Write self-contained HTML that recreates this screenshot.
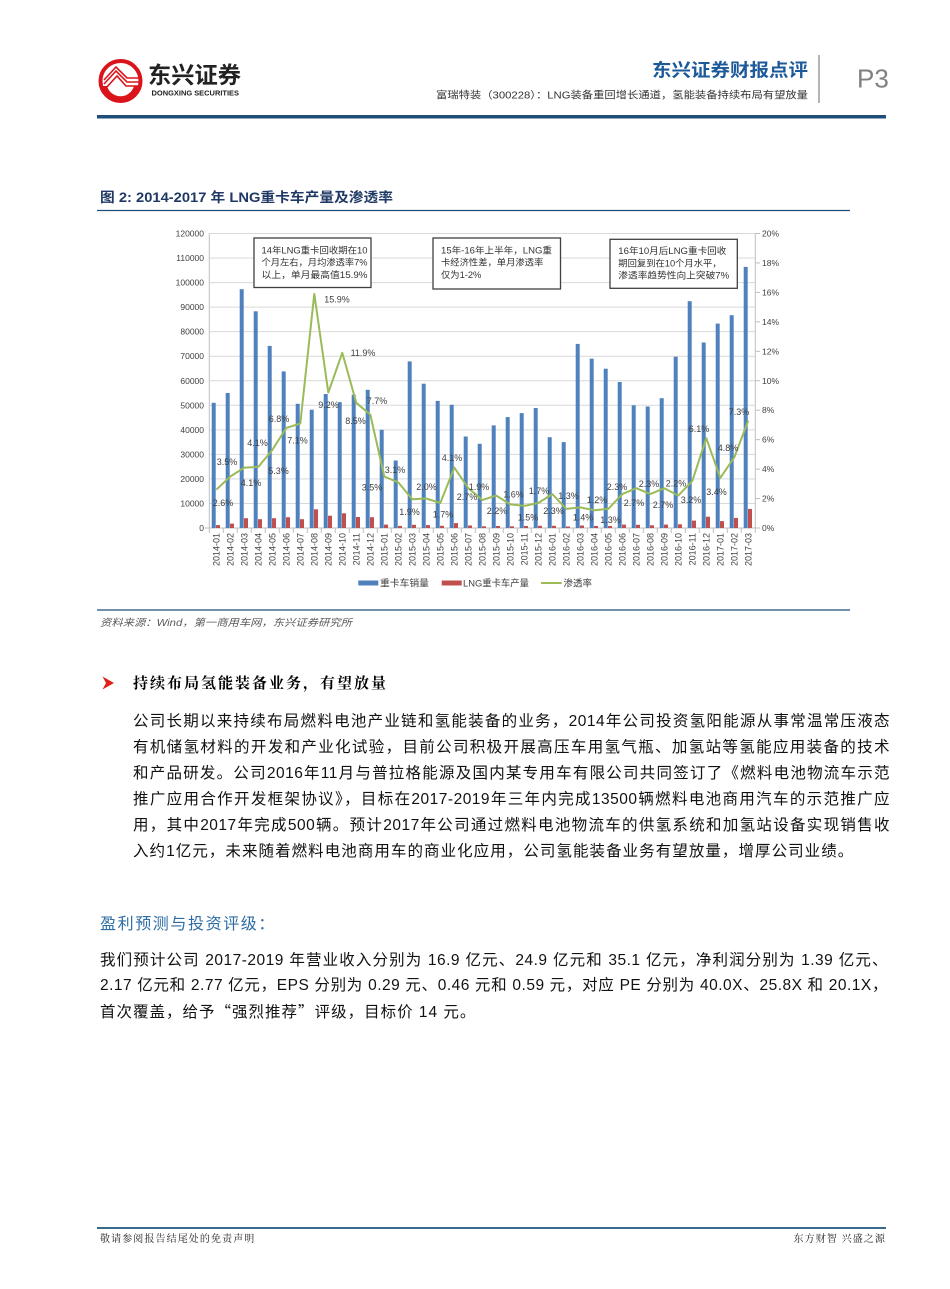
<!DOCTYPE html>
<html lang="zh-CN">
<head>
<meta charset="utf-8">
<title>富瑞特装 P3</title>
<style>
html,body{margin:0;padding:0;background:#fff;}
body{width:950px;height:1289px;position:relative;overflow:hidden;font-family:"Liberation Sans","Noto Sans CJK SC",sans-serif;}
svg{position:absolute;left:0;top:0;}
.l{position:absolute;height:26px;line-height:26px;font-size:15.5px;letter-spacing:0.5px;color:#111;text-align:justify;text-align-last:justify;font-family:"Liberation Sans","Noto Sans CJK SC",sans-serif;}
.p1{left:133px;width:757px;}
.p2{left:100px;width:788px;}
.nj{text-align:left;text-align-last:left;}
.q{font-family:"Noto Sans CJK SC",sans-serif;}
.sec{position:absolute;left:133px;top:670px;height:26px;line-height:26px;font-size:15px;font-weight:bold;letter-spacing:2px;color:#000;font-family:"Noto Serif CJK SC","Noto Sans CJK SC",serif;}
.sec2{position:absolute;left:100px;top:912px;height:26px;line-height:26px;font-size:16px;letter-spacing:1.6px;color:#2e6ca4;font-family:"Liberation Sans","Noto Sans CJK SC",sans-serif;}
.ft{position:absolute;top:1229px;height:18px;line-height:18px;font-size:10px;letter-spacing:1.1px;color:#222;font-family:"Noto Serif CJK SC","Noto Sans CJK SC",serif;}
</style>
</head>
<body>
<svg width="950" height="1289" viewBox="0 0 950 1289" xmlns="http://www.w3.org/2000/svg" font-family="Liberation Sans, Noto Sans CJK SC, sans-serif">
  <!-- Logo -->
  <circle cx="120.5" cy="81" r="20" fill="#fff" stroke="#d9141b" stroke-width="4"/>
  <path d="M101 86 A20 20 0 0 0 140 86 L134 86 A14 14 0 0 1 107 86 Z" fill="#d9141b"/>
  <g fill="none" stroke="#d9141b" stroke-width="1.6">
    <polyline points="104,84 116,71 127,82 140,82"/>
    <polyline points="104,80 116,67 127,78 139,78"/>
    <polyline points="106,88 117,76 126,86 139,86"/>
  </g>
  <text x="148" y="83" font-size="23" font-weight="bold" fill="#222" textLength="93" lengthAdjust="spacingAndGlyphs">东兴证券</text>
  <text x="151.5" y="95.5" font-size="7.5" font-weight="bold" fill="#222" textLength="87.5" lengthAdjust="spacingAndGlyphs">DONGXING SECURITIES</text>
  <!-- Header right -->
  <text x="652" y="76.5" font-size="18" font-weight="bold" fill="#1c5a99" textLength="156" lengthAdjust="spacingAndGlyphs">东兴证券财报点评</text>
  <text x="436" y="98.5" font-size="10" fill="#333" textLength="372" lengthAdjust="spacingAndGlyphs">富瑞特装（300228）：LNG装备重回增长通道，氢能装备持续布局有望放量</text>
  <line x1="819" y1="55" x2="819" y2="103" stroke="#9a9a9a" stroke-width="1.5"/>
  <text x="857" y="87.5" font-size="26" fill="#808080">P3</text>
  <rect x="97" y="115" width="789" height="3.5" fill="#1f4e79"/>

  <!-- Figure title -->
  <text x="100" y="202" font-size="13.5" font-weight="bold" fill="#1f3864" textLength="293" lengthAdjust="spacingAndGlyphs">图 2: 2014-2017 年 LNG重卡车产量及渗透率</text>
  <line x1="97" y1="210.5" x2="850" y2="210.5" stroke="#1f4e79" stroke-width="1.2"/>

  <!-- Gridlines -->
  <g stroke="#d9d9d9" stroke-width="1">
    <line x1="209.3" y1="503.46" x2="755.3" y2="503.46"/>
    <line x1="209.3" y1="478.92" x2="755.3" y2="478.92"/>
    <line x1="209.3" y1="454.38" x2="755.3" y2="454.38"/>
    <line x1="209.3" y1="429.84" x2="755.3" y2="429.84"/>
    <line x1="209.3" y1="405.3" x2="755.3" y2="405.3"/>
    <line x1="209.3" y1="380.76" x2="755.3" y2="380.76"/>
    <line x1="209.3" y1="356.22" x2="755.3" y2="356.22"/>
    <line x1="209.3" y1="331.68" x2="755.3" y2="331.68"/>
    <line x1="209.3" y1="307.14" x2="755.3" y2="307.14"/>
    <line x1="209.3" y1="282.6" x2="755.3" y2="282.6"/>
    <line x1="209.3" y1="258.06" x2="755.3" y2="258.06"/>
    <line x1="209.3" y1="233.52" x2="755.3" y2="233.52"/>
  </g>
  <!-- Axes -->
  <g stroke="#bfbfbf" stroke-width="1">
    <line x1="209.3" y1="233.5" x2="209.3" y2="528"/>
    <line x1="755.3" y1="233.5" x2="755.3" y2="528"/>
    <line x1="209.3" y1="528" x2="755.3" y2="528"/>
    <line x1="755.3" y1="528" x2="760" y2="528"/>
    <line x1="755.3" y1="498.55" x2="760" y2="498.55"/>
    <line x1="755.3" y1="469.1" x2="760" y2="469.1"/>
    <line x1="755.3" y1="439.65" x2="760" y2="439.65"/>
    <line x1="755.3" y1="410.2" x2="760" y2="410.2"/>
    <line x1="755.3" y1="380.75" x2="760" y2="380.75"/>
    <line x1="755.3" y1="351.3" x2="760" y2="351.3"/>
    <line x1="755.3" y1="321.85" x2="760" y2="321.85"/>
    <line x1="755.3" y1="292.4" x2="760" y2="292.4"/>
    <line x1="755.3" y1="262.95" x2="760" y2="262.95"/>
    <line x1="755.3" y1="233.5" x2="760" y2="233.5"/>
    <line x1="205" y1="528" x2="209.3" y2="528"/>
  </g>
  <g stroke="#bfbfbf" stroke-width="1">
    <line x1="209.3" y1="528" x2="209.3" y2="533"/><line x1="223.3" y1="528" x2="223.3" y2="533"/><line x1="237.3" y1="528" x2="237.3" y2="533"/><line x1="251.3" y1="528" x2="251.3" y2="533"/><line x1="265.3" y1="528" x2="265.3" y2="533"/><line x1="279.3" y1="528" x2="279.3" y2="533"/><line x1="293.3" y1="528" x2="293.3" y2="533"/><line x1="307.3" y1="528" x2="307.3" y2="533"/><line x1="321.3" y1="528" x2="321.3" y2="533"/><line x1="335.3" y1="528" x2="335.3" y2="533"/><line x1="349.3" y1="528" x2="349.3" y2="533"/><line x1="363.3" y1="528" x2="363.3" y2="533"/><line x1="377.3" y1="528" x2="377.3" y2="533"/><line x1="391.3" y1="528" x2="391.3" y2="533"/><line x1="405.3" y1="528" x2="405.3" y2="533"/><line x1="419.3" y1="528" x2="419.3" y2="533"/><line x1="433.3" y1="528" x2="433.3" y2="533"/><line x1="447.3" y1="528" x2="447.3" y2="533"/><line x1="461.3" y1="528" x2="461.3" y2="533"/><line x1="475.3" y1="528" x2="475.3" y2="533"/><line x1="489.3" y1="528" x2="489.3" y2="533"/><line x1="503.3" y1="528" x2="503.3" y2="533"/><line x1="517.3" y1="528" x2="517.3" y2="533"/><line x1="531.3" y1="528" x2="531.3" y2="533"/><line x1="545.3" y1="528" x2="545.3" y2="533"/><line x1="559.3" y1="528" x2="559.3" y2="533"/><line x1="573.3" y1="528" x2="573.3" y2="533"/><line x1="587.3" y1="528" x2="587.3" y2="533"/><line x1="601.3" y1="528" x2="601.3" y2="533"/><line x1="615.3" y1="528" x2="615.3" y2="533"/><line x1="629.3" y1="528" x2="629.3" y2="533"/><line x1="643.3" y1="528" x2="643.3" y2="533"/><line x1="657.3" y1="528" x2="657.3" y2="533"/><line x1="671.3" y1="528" x2="671.3" y2="533"/><line x1="685.3" y1="528" x2="685.3" y2="533"/><line x1="699.3" y1="528" x2="699.3" y2="533"/><line x1="713.3" y1="528" x2="713.3" y2="533"/><line x1="727.3" y1="528" x2="727.3" y2="533"/><line x1="741.3" y1="528" x2="741.3" y2="533"/><line x1="755.3" y1="528" x2="755.3" y2="533"/>
  </g>

  <!-- Left axis labels -->
  <g font-size="8.5" fill="#404040" text-anchor="end">
    <text x="204" y="531">0</text>
    <text x="204" y="506.5">10000</text>
    <text x="204" y="482">20000</text>
    <text x="204" y="457.4">30000</text>
    <text x="204" y="432.9">40000</text>
    <text x="204" y="408.3">50000</text>
    <text x="204" y="383.8">60000</text>
    <text x="204" y="359.2">70000</text>
    <text x="204" y="334.7">80000</text>
    <text x="204" y="310.1">90000</text>
    <text x="204" y="285.6">100000</text>
    <text x="204" y="261.1">110000</text>
    <text x="204" y="236.5">120000</text>
  </g>
  <!-- Right axis labels -->
  <g font-size="8.5" fill="#404040">
    <text x="762" y="531">0%</text>
    <text x="762" y="501.6">2%</text>
    <text x="762" y="472.1">4%</text>
    <text x="762" y="442.7">6%</text>
    <text x="762" y="413.2">8%</text>
    <text x="762" y="383.8">10%</text>
    <text x="762" y="354.3">12%</text>
    <text x="762" y="324.9">14%</text>
    <text x="762" y="295.4">16%</text>
    <text x="762" y="266">18%</text>
    <text x="762" y="236.5">20%</text>
  </g>

  <!-- Blue bars -->
  <g fill="#4f81bd">
    <rect x="211.7" y="402.8" width="4" height="125.2"/>
    <rect x="225.7" y="393.0" width="4" height="135.0"/>
    <rect x="239.7" y="289.2" width="4" height="238.8"/>
    <rect x="253.7" y="311.3" width="4" height="216.7"/>
    <rect x="267.7" y="345.9" width="4" height="182.1"/>
    <rect x="281.7" y="371.4" width="4" height="156.6"/>
    <rect x="295.7" y="403.8" width="4" height="124.2"/>
    <rect x="309.7" y="409.7" width="4" height="118.3"/>
    <rect x="323.7" y="394.0" width="4" height="134.0"/>
    <rect x="337.7" y="402.1" width="4" height="125.9"/>
    <rect x="351.7" y="394.7" width="4" height="133.3"/>
    <rect x="365.7" y="389.8" width="4" height="138.2"/>
    <rect x="379.7" y="429.8" width="4" height="98.2"/>
    <rect x="393.7" y="460.5" width="4" height="67.5"/>
    <rect x="407.7" y="361.4" width="4" height="166.6"/>
    <rect x="421.7" y="383.7" width="4" height="144.3"/>
    <rect x="435.7" y="400.9" width="4" height="127.1"/>
    <rect x="449.7" y="404.8" width="4" height="123.2"/>
    <rect x="463.7" y="436.5" width="4" height="91.5"/>
    <rect x="477.7" y="443.8" width="4" height="84.2"/>
    <rect x="491.7" y="425.4" width="4" height="102.6"/>
    <rect x="505.7" y="417.1" width="4" height="110.9"/>
    <rect x="519.7" y="413.1" width="4" height="114.9"/>
    <rect x="533.7" y="408.0" width="4" height="120.0"/>
    <rect x="547.7" y="437.2" width="4" height="90.8"/>
    <rect x="561.7" y="442.1" width="4" height="85.9"/>
    <rect x="575.7" y="343.9" width="4" height="184.1"/>
    <rect x="589.7" y="358.7" width="4" height="169.3"/>
    <rect x="603.7" y="368.7" width="4" height="159.3"/>
    <rect x="617.7" y="382.0" width="4" height="146.0"/>
    <rect x="631.7" y="405.3" width="4" height="122.7"/>
    <rect x="645.7" y="406.5" width="4" height="121.5"/>
    <rect x="659.7" y="398.2" width="4" height="129.8"/>
    <rect x="673.7" y="356.7" width="4" height="171.3"/>
    <rect x="687.7" y="301.2" width="4" height="226.8"/>
    <rect x="701.7" y="342.5" width="4" height="185.5"/>
    <rect x="715.7" y="323.6" width="4" height="204.4"/>
    <rect x="729.7" y="315.2" width="4" height="212.8"/>
    <rect x="743.7" y="266.9" width="4" height="261.1"/>
  </g>
  <!-- Red bars -->
  <g fill="#c0504d">
    <rect x="216.0" y="525.1" width="4" height="2.9"/>
    <rect x="230.0" y="523.6" width="4" height="4.4"/>
    <rect x="244.0" y="518.2" width="4" height="9.8"/>
    <rect x="258.0" y="519.2" width="4" height="8.8"/>
    <rect x="272.0" y="518.2" width="4" height="9.8"/>
    <rect x="286.0" y="517.2" width="4" height="10.8"/>
    <rect x="300.0" y="519.2" width="4" height="8.8"/>
    <rect x="314.0" y="509.3" width="4" height="18.7"/>
    <rect x="328.0" y="515.7" width="4" height="12.3"/>
    <rect x="342.0" y="513.3" width="4" height="14.7"/>
    <rect x="356.0" y="517.0" width="4" height="11.0"/>
    <rect x="370.0" y="517.2" width="4" height="10.8"/>
    <rect x="384.0" y="524.6" width="4" height="3.4"/>
    <rect x="398.0" y="525.9" width="4" height="2.1"/>
    <rect x="412.0" y="524.8" width="4" height="3.2"/>
    <rect x="426.0" y="525.1" width="4" height="2.9"/>
    <rect x="440.0" y="525.8" width="4" height="2.2"/>
    <rect x="454.0" y="523.1" width="4" height="4.9"/>
    <rect x="468.0" y="525.5" width="4" height="2.5"/>
    <rect x="482.0" y="526.3" width="4" height="1.7"/>
    <rect x="496.0" y="526.0" width="4" height="2.0"/>
    <rect x="510.0" y="526.3" width="4" height="1.7"/>
    <rect x="524.0" y="526.0" width="4" height="2.0"/>
    <rect x="538.0" y="525.8" width="4" height="2.2"/>
    <rect x="552.0" y="525.8" width="4" height="2.2"/>
    <rect x="566.0" y="526.5" width="4" height="1.5"/>
    <rect x="580.0" y="525.5" width="4" height="2.5"/>
    <rect x="594.0" y="526.0" width="4" height="2.0"/>
    <rect x="608.0" y="526.0" width="4" height="2.0"/>
    <rect x="622.0" y="524.6" width="4" height="3.4"/>
    <rect x="636.0" y="524.8" width="4" height="3.2"/>
    <rect x="650.0" y="525.3" width="4" height="2.7"/>
    <rect x="664.0" y="524.6" width="4" height="3.4"/>
    <rect x="678.0" y="524.3" width="4" height="3.7"/>
    <rect x="692.0" y="520.6" width="4" height="7.4"/>
    <rect x="706.0" y="516.7" width="4" height="11.3"/>
    <rect x="720.0" y="521.1" width="4" height="6.9"/>
    <rect x="734.0" y="517.9" width="4" height="10.1"/>
    <rect x="748.0" y="508.9" width="4" height="19.1"/>
  </g>
  <!-- Green line -->
  <polyline fill="none" stroke="#9bbb59" stroke-width="2" stroke-linejoin="round" points="216.3,489.7 230.3,476.5 244.3,467.6 258.3,466.9 272.3,450.0 286.3,427.9 300.3,423.5 314.3,293.9 328.3,392.5 342.3,352.8 356.3,402.8 370.3,414.6 384.3,476.5 398.3,482.4 412.3,499.3 426.3,498.5 440.3,503.0 454.3,467.6 468.3,488.2 482.3,500.0 496.3,495.6 510.3,504.4 524.3,505.9 538.3,503.0 552.3,494.1 566.3,508.9 580.3,507.4 594.3,510.3 608.3,508.9 622.3,494.1 636.3,488.2 650.3,494.1 664.3,488.2 678.3,495.6 692.3,480.9 706.3,438.2 720.3,477.9 734.3,457.3 748.3,420.5"/>

  <!-- Data labels -->
  <g font-size="9" fill="#404040" text-anchor="middle">
    <text x="223" y="506.2">2.6%</text>
    <text x="227" y="464.9">3.5%</text>
    <text x="257.5" y="445.9">4.1%</text>
    <text x="251" y="485.9">4.1%</text>
    <text x="278.5" y="473.9">5.3%</text>
    <text x="279" y="422.2">6.8%</text>
    <text x="297.5" y="443.5">7.1%</text>
    <text x="337" y="302.5">15.9%</text>
    <text x="328.5" y="408.2">9.2%</text>
    <text x="363" y="355.9">11.9%</text>
    <text x="355.5" y="423.9">8.5%</text>
    <text x="377" y="403.9">7.7%</text>
    <text x="372" y="490.5">3.5%</text>
    <text x="395" y="473.2">3.1%</text>
    <text x="409.5" y="514.9">1.9%</text>
    <text x="426.5" y="489.9">2.0%</text>
    <text x="443" y="517.5">1.7%</text>
    <text x="452" y="460.9">4.1%</text>
    <text x="467" y="499.9">2.7%</text>
    <text x="479" y="489.9">1.9%</text>
    <text x="497" y="513.9">2.2%</text>
    <text x="513.5" y="497.5">1.6%</text>
    <text x="528" y="520.5">1.5%</text>
    <text x="539" y="494.2">1.7%</text>
    <text x="553.5" y="514.2">2.3%</text>
    <text x="568.5" y="498.9">1.3%</text>
    <text x="583" y="520.5">1.4%</text>
    <text x="597" y="503.2">1.2%</text>
    <text x="610.5" y="523.2">1.3%</text>
    <text x="617" y="489.9">2.3%</text>
    <text x="634" y="505.9">2.7%</text>
    <text x="649" y="487.2">2.3%</text>
    <text x="663" y="508.2">2.7%</text>
    <text x="676" y="486.5">2.2%</text>
    <text x="691" y="503.2">3.2%</text>
    <text x="699" y="431.9">6.1%</text>
    <text x="716.5" y="494.9">3.4%</text>
    <text x="728" y="450.9">4.8%</text>
    <text x="739" y="414.9">7.3%</text>
  </g>

  <!-- X axis labels -->
  <g font-size="9" fill="#404040" text-anchor="end">
    <text transform="translate(219.5,533) rotate(-90)">2014-01</text>
    <text transform="translate(233.5,533) rotate(-90)">2014-02</text>
    <text transform="translate(247.5,533) rotate(-90)">2014-03</text>
    <text transform="translate(261.5,533) rotate(-90)">2014-04</text>
    <text transform="translate(275.5,533) rotate(-90)">2014-05</text>
    <text transform="translate(289.5,533) rotate(-90)">2014-06</text>
    <text transform="translate(303.5,533) rotate(-90)">2014-07</text>
    <text transform="translate(317.5,533) rotate(-90)">2014-08</text>
    <text transform="translate(331.5,533) rotate(-90)">2014-09</text>
    <text transform="translate(345.5,533) rotate(-90)">2014-10</text>
    <text transform="translate(359.5,533) rotate(-90)">2014-11</text>
    <text transform="translate(373.5,533) rotate(-90)">2014-12</text>
    <text transform="translate(387.5,533) rotate(-90)">2015-01</text>
    <text transform="translate(401.5,533) rotate(-90)">2015-02</text>
    <text transform="translate(415.5,533) rotate(-90)">2015-03</text>
    <text transform="translate(429.5,533) rotate(-90)">2015-04</text>
    <text transform="translate(443.5,533) rotate(-90)">2015-05</text>
    <text transform="translate(457.5,533) rotate(-90)">2015-06</text>
    <text transform="translate(471.5,533) rotate(-90)">2015-07</text>
    <text transform="translate(485.5,533) rotate(-90)">2015-08</text>
    <text transform="translate(499.5,533) rotate(-90)">2015-09</text>
    <text transform="translate(513.5,533) rotate(-90)">2015-10</text>
    <text transform="translate(527.5,533) rotate(-90)">2015-11</text>
    <text transform="translate(541.5,533) rotate(-90)">2015-12</text>
    <text transform="translate(555.5,533) rotate(-90)">2016-01</text>
    <text transform="translate(569.5,533) rotate(-90)">2016-02</text>
    <text transform="translate(583.5,533) rotate(-90)">2016-03</text>
    <text transform="translate(597.5,533) rotate(-90)">2016-04</text>
    <text transform="translate(611.5,533) rotate(-90)">2016-05</text>
    <text transform="translate(625.5,533) rotate(-90)">2016-06</text>
    <text transform="translate(639.5,533) rotate(-90)">2016-07</text>
    <text transform="translate(653.5,533) rotate(-90)">2016-08</text>
    <text transform="translate(667.5,533) rotate(-90)">2016-09</text>
    <text transform="translate(681.5,533) rotate(-90)">2016-10</text>
    <text transform="translate(695.5,533) rotate(-90)">2016-11</text>
    <text transform="translate(709.5,533) rotate(-90)">2016-12</text>
    <text transform="translate(723.5,533) rotate(-90)">2017-01</text>
    <text transform="translate(737.5,533) rotate(-90)">2017-02</text>
    <text transform="translate(751.5,533) rotate(-90)">2017-03</text>
  </g>

  <!-- Annotation boxes -->
  <g fill="#fff" stroke="#404040" stroke-width="1.3">
    <rect x="254" y="238" width="117" height="49.5"/>
    <rect x="433" y="238" width="127.5" height="51"/>
    <rect x="610" y="239.3" width="127.3" height="49"/>
  </g>
  <g font-size="9.3" fill="#333">
    <text x="261.5" y="253.3" textLength="106" lengthAdjust="spacingAndGlyphs">14年LNG重卡回收期在10</text>
    <text x="261.5" y="265.6" textLength="106" lengthAdjust="spacingAndGlyphs">个月左右，月均渗透率7%</text>
    <text x="261.5" y="278.2" textLength="106" lengthAdjust="spacingAndGlyphs">以上，单月最高值15.9%</text>
    <text x="441" y="253.3" textLength="111" lengthAdjust="spacingAndGlyphs">15年-16年上半年，LNG重</text>
    <text x="441" y="265.6">卡经济性差，单月渗透率</text>
    <text x="441" y="278.2">仅为1-2%</text>
    <text x="618.3" y="254" textLength="108" lengthAdjust="spacingAndGlyphs">16年10月后LNG重卡回收</text>
    <text x="618.3" y="266.3">期回复到在10个月水平，</text>
    <text x="618.3" y="278.6" textLength="111" lengthAdjust="spacingAndGlyphs">渗透率趋势性向上突破7%</text>
  </g>

  <!-- Legend -->
  <rect x="358.3" y="580.5" width="20" height="5" fill="#4f81bd"/>
  <text x="380" y="586.3" font-size="9.5" fill="#404040" textLength="49" lengthAdjust="spacingAndGlyphs">重卡车销量</text>
  <rect x="441.7" y="580.5" width="20" height="5" fill="#c0504d"/>
  <text x="463" y="586.3" font-size="9.5" fill="#404040" textLength="66" lengthAdjust="spacingAndGlyphs">LNG重卡车产量</text>
  <line x1="541" y1="583" x2="561.7" y2="583" stroke="#9bbb59" stroke-width="2"/>
  <text x="563.5" y="586.3" font-size="9.5" fill="#404040" textLength="28.5" lengthAdjust="spacingAndGlyphs">渗透率</text>

  <!-- Source -->
  <line x1="97" y1="610" x2="850" y2="610" stroke="#1f4e79" stroke-width="1.2"/>
  <text x="100" y="626" font-size="10" font-style="italic" fill="#595959" textLength="252" lengthAdjust="spacingAndGlyphs">资料来源：Wind，第一商用车网，东兴证券研究所</text>

  <!-- Section arrow -->
  <polygon points="102.5,676.5 114,683 102.5,689.5 106,683" fill="#e0201b"/>

  <!-- Footer line -->
  <rect x="97" y="1227" width="789" height="2" fill="#3b6a8f"/>
</svg>

<div class="sec">持续布局氢能装备业务，有望放量</div>

<div class="l p1" style="top:708.5px;">公司长期以来持续布局燃料电池产业链和氢能装备的业务，2014年公司投资氢阳能源从事常温常压液态</div>
<div class="l p1" style="top:734.5px;">有机储氢材料的开发和产业化试验，目前公司积极开展高压车用氢气瓶、加氢站等氢能应用装备的技术</div>
<div class="l p1" style="top:760.5px;">和产品研发。公司2016年11月与普拉格能源及国内某专用车有限公司共同签订了《燃料电池物流车示范</div>
<div class="l p1" style="top:786.5px;">推广应用合作开发框架协议》，目标在2017-2019年三年内完成13500辆燃料电池商用汽车的示范推广应</div>
<div class="l p1" style="top:812.5px;">用，其中2017年完成500辆。预计2017年公司通过燃料电池物流车的供氢系统和加氢站设备实现销售收</div>
<div class="l p1 nj" style="top:838.5px;letter-spacing:1.05px;">入约1亿元，未来随着燃料电池商用车的商业化应用，公司氢能装备业务有望放量，增厚公司业绩。</div>

<div class="sec2">盈利预测与投资评级：</div>

<div class="l p2" style="top:948px;">我们预计公司 2017-2019 年营业收入分别为 16.9 亿元、24.9 亿元和 35.1 亿元，净利润分别为 1.39 亿元、</div>
<div class="l p2" style="top:973px;">2.17 亿元和 2.77 亿元，EPS 分别为 0.29 元、0.46 元和 0.59 元，对应 PE 分别为 40.0X、25.8X 和 20.1X，</div>
<div class="l p2 nj" style="top:998px;letter-spacing:1px;">首次覆盖，给予<span class="q">“</span>强烈推荐<span class="q">”</span>评级，目标价 14 元。</div>

<div class="ft" style="left:100px;">敬请参阅报告结尾处的免责声明</div>
<div class="ft" style="right:64px;text-align:right;">东方财智 兴盛之源</div>
</body>
</html>
